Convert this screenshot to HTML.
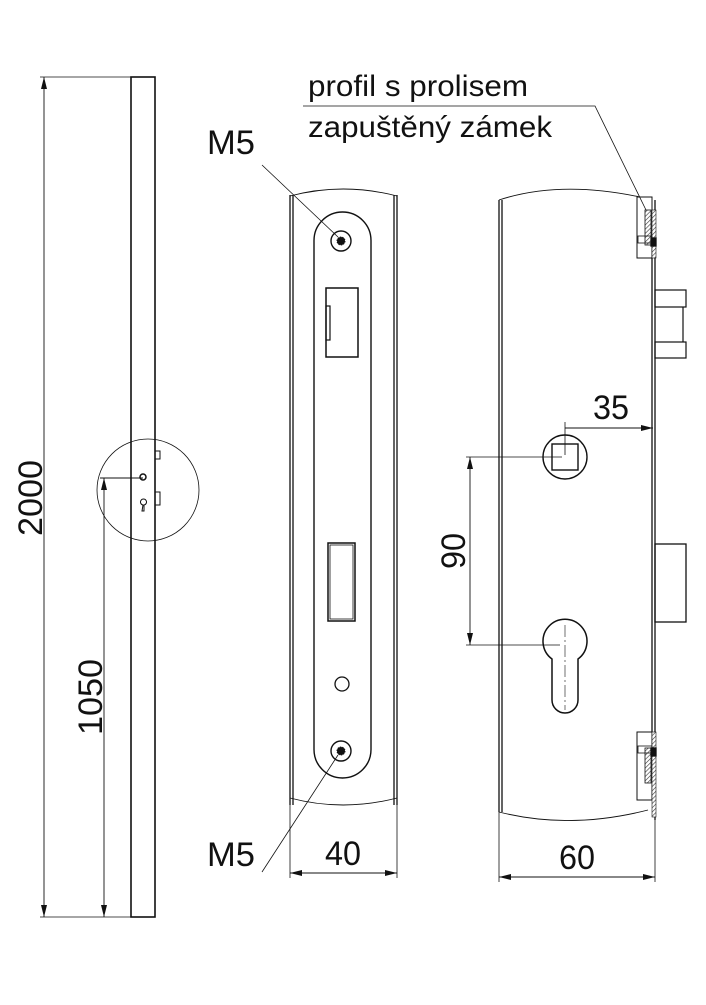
<!DOCTYPE html>
<html><head><meta charset="utf-8"><style>
body{margin:0;background:#fff}
svg text{font-family:"Liberation Sans",sans-serif;fill:#111}
</style></head><body>
<svg width="706" height="1000" viewBox="0 0 706 1000" xmlns="http://www.w3.org/2000/svg">
<defs>
<marker id="a" viewBox="0 0 12 6" refX="12" refY="3" markerWidth="12" markerHeight="6" orient="auto-start-reverse" markerUnits="userSpaceOnUse"><path d="M0,0 L12,3 L0,6z" fill="#111"/></marker>
<pattern id="h" width="3" height="3" patternUnits="userSpaceOnUse" patternTransform="rotate(45)"><rect width="3" height="3" fill="#fff"/><line x1="0" y1="0" x2="0" y2="3" stroke="#333" stroke-width="1.2"/></pattern>
</defs>
<g fill="none" stroke="#111" stroke-width="1.3">
<rect x="131" y="77" width="24" height="840" stroke-width="1.6"/>
<line x1="40" y1="77" x2="131" y2="77" stroke-width="0.8"/>
<line x1="40" y1="917" x2="131" y2="917" stroke-width="0.8"/>
<line x1="44" y1="77" x2="44" y2="917" stroke-width="0.9" marker-start="url(#a)" marker-end="url(#a)"/>
<line x1="100" y1="478" x2="143" y2="478" stroke-width="0.9"/>
<line x1="104" y1="478" x2="104" y2="917" stroke-width="0.9" marker-start="url(#a)" marker-end="url(#a)"/>
<circle cx="148" cy="490" r="51" stroke-width="0.8"/>
<circle cx="143" cy="477" r="3" stroke-width="1.5"/>
<path d="M143,505 a3,3 0 1 1 1,0 v6 h-2z" stroke-width="1"/>
<rect x="155" y="451" width="5" height="8" stroke-width="1"/>
<rect x="155" y="492" width="5" height="13" stroke-width="1"/>
<line x1="290" y1="195" x2="290" y2="805"/><line x1="293" y1="195" x2="293" y2="805"/>
<line x1="394" y1="195" x2="394" y2="805"/><line x1="397" y1="195" x2="397" y2="805"/>
<path d="M290,196 Q343,182 397,196" stroke-width="0.9"/>
<path d="M290,798 Q343,812 397,798" stroke-width="0.9"/>
<rect x="314" y="212" width="57" height="566" rx="28.5" stroke-width="1.4"/>
<circle cx="341" cy="241" r="10" stroke-width="1.4"/>
<circle cx="341" cy="241" r="4" fill="#111" stroke-width="1" stroke-dasharray="1.5,1"/>
<circle cx="341" cy="751" r="10" stroke-width="1.4"/>
<circle cx="341" cy="751" r="4" fill="#111" stroke-width="1" stroke-dasharray="1.5,1"/>
<rect x="326" y="288" width="32" height="69" stroke-width="1.5"/>
<rect x="326" y="306" width="4" height="34" stroke-width="1.2"/>
<rect x="328" y="543" width="27" height="78" stroke-width="1.5"/>
<rect x="330" y="545" width="23" height="74" stroke-width="0.8"/>
<circle cx="342" cy="684" r="7" stroke-width="1.3"/>
<line x1="262" y1="165" x2="338" y2="237" stroke-width="0.8"/>
<line x1="262" y1="872" x2="338" y2="755" stroke-width="0.8"/>
<line x1="290" y1="805" x2="290" y2="878" stroke-width="0.8"/>
<line x1="397" y1="805" x2="397" y2="878" stroke-width="0.8"/>
<line x1="290" y1="873" x2="397" y2="873" stroke-width="0.9" marker-start="url(#a)" marker-end="url(#a)"/>
<line x1="499" y1="200" x2="499" y2="812"/><line x1="502" y1="200" x2="502" y2="812"/>
<line x1="652" y1="258" x2="652" y2="732"/><line x1="655" y1="200" x2="655" y2="820"/>
<path d="M499,200 Q560,180 640,197" stroke-width="0.9"/>
<path d="M499,812 Q570,830 648,810" stroke-width="0.9"/>
<rect x="637" y="197" width="15" height="61" stroke-width="1"/>
<rect x="645" y="210" width="6" height="35" fill="url(#h)" stroke-width="0.8"/>
<rect x="652" y="210" width="4" height="48" fill="url(#h)" stroke-width="0.6"/>
<rect x="638" y="236" width="14" height="7" stroke-width="0.8"/>
<rect x="651" y="238" width="5" height="8" fill="#111"/>
<rect x="637" y="732" width="15" height="68" stroke-width="1"/>
<rect x="645" y="748" width="6" height="35" fill="url(#h)" stroke-width="0.8"/>
<rect x="652" y="732" width="4" height="85" fill="url(#h)" stroke-width="0.6"/>
<rect x="638" y="746" width="14" height="7" stroke-width="0.8"/>
<rect x="651" y="748" width="5" height="8" fill="#111"/>
<rect x="655" y="290" width="31" height="17" stroke-width="1.2"/>
<rect x="655" y="342" width="31" height="16" stroke-width="1.2"/>
<line x1="683" y1="307" x2="683" y2="342" stroke-width="1.2"/>
<rect x="655" y="544" width="31" height="78" stroke-width="1.3"/>
<circle cx="565" cy="457" r="22" stroke-width="1.4"/>
<rect x="552" y="444" width="26" height="26" stroke-width="1.4"/>
<path d="M552,659 A22,22 0 1 1 578,659 V700 A13,13 0 0 1 552,700 Z" stroke-width="1.5"/>
<line x1="565" y1="625" x2="565" y2="710" stroke-width="0.6" stroke-dasharray="12,3,2,3"/>
<line x1="466" y1="457" x2="562" y2="457" stroke-width="0.8"/>
<line x1="466" y1="645" x2="560" y2="645" stroke-width="0.8"/>
<line x1="470" y1="457" x2="470" y2="645" stroke-width="0.9" marker-start="url(#a)" marker-end="url(#a)"/>
<line x1="565" y1="422" x2="565" y2="455" stroke-width="0.8"/>
<line x1="565" y1="428" x2="653" y2="428" stroke-width="0.9" marker-end="url(#a)"/>
<line x1="499" y1="812" x2="499" y2="882" stroke-width="0.8"/>
<line x1="655" y1="820" x2="655" y2="882" stroke-width="0.8"/>
<line x1="499" y1="877" x2="655" y2="877" stroke-width="0.9" marker-start="url(#a)" marker-end="url(#a)"/>
<polyline points="303,106 595,106 646,210" stroke-width="0.8"/>
</g>
<g font-size="34">
<text x="0" y="0" transform="translate(42,498) rotate(-90)" text-anchor="middle" textLength="76" lengthAdjust="spacingAndGlyphs">2000</text>
<text x="0" y="0" transform="translate(102,697) rotate(-90)" text-anchor="middle" textLength="76" lengthAdjust="spacingAndGlyphs">1050</text>
<text x="207" y="154" textLength="48" lengthAdjust="spacingAndGlyphs">M5</text>
<text x="207" y="866" textLength="48" lengthAdjust="spacingAndGlyphs">M5</text>
<text x="343" y="865" text-anchor="middle" textLength="36" lengthAdjust="spacingAndGlyphs">40</text>
<text x="577" y="869" text-anchor="middle" textLength="36" lengthAdjust="spacingAndGlyphs">60</text>
<text x="611" y="419" text-anchor="middle" textLength="36" lengthAdjust="spacingAndGlyphs">35</text>
<text x="0" y="0" transform="translate(465,551) rotate(-90)" text-anchor="middle" textLength="36" lengthAdjust="spacingAndGlyphs">90</text>
</g>
<g font-size="30">
<text x="308" y="96" textLength="220" lengthAdjust="spacingAndGlyphs">profil s prolisem</text>
<text x="308" y="137" textLength="244" lengthAdjust="spacingAndGlyphs">zapuštěný zámek</text>
</g>
</svg>
</body></html>
